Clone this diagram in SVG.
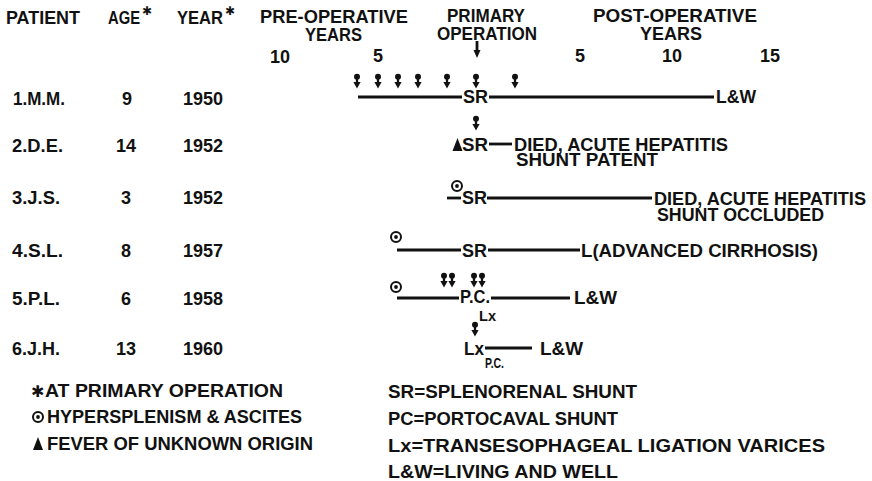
<svg xmlns="http://www.w3.org/2000/svg" width="872" height="481" viewBox="0 0 872 481">
<style>
.t{font-family:"Liberation Sans",Arial,sans-serif;font-weight:bold;font-size:18px;fill:#111}
.s{font-size:14px}
.m{text-anchor:middle}
.st{font-family:"DejaVu Sans","Liberation Sans",sans-serif;font-weight:bold;fill:#111}
.ln{stroke:#111;stroke-width:2.8;fill:none}
</style>
<defs>
<g id="hem"><circle cx="0" cy="2.8" r="3" fill="#111"/><line x1="0" y1="4" x2="0" y2="9" stroke="#111" stroke-width="2.3"/><polygon points="-3.6,8 3.6,8 0,14.5" fill="#111"/></g>
<g id="cd"><circle cx="0" cy="0" r="5" fill="none" stroke="#111" stroke-width="2"/><circle cx="0" cy="0" r="1.9" fill="#111"/></g>
<polygon id="tri" points="-5,0 5,0 0,-13" fill="#111"/>
</defs>
<rect width="872" height="481" fill="#fff"/>

<g id="header">
<text class="t" x="6" y="24" textLength="74" lengthAdjust="spacingAndGlyphs">PATIENT</text>
<text class="t" x="108" y="24" textLength="32" lengthAdjust="spacingAndGlyphs">AGE</text>
<text class="st" x="142" y="15" font-size="12">✱</text>
<text class="t" x="177" y="24" textLength="46" lengthAdjust="spacingAndGlyphs">YEAR</text>
<text class="st" x="225" y="15" font-size="12">✱</text>
<text class="t" x="260" y="23" textLength="148" lengthAdjust="spacingAndGlyphs">PRE-OPERATIVE</text>
<text class="t" x="305" y="41" textLength="57" lengthAdjust="spacingAndGlyphs">YEARS</text>
<text class="t" x="447" y="22" textLength="78" lengthAdjust="spacingAndGlyphs">PRIMARY</text>
<text class="t" x="437" y="40" textLength="100" lengthAdjust="spacingAndGlyphs">OPERATION</text>
<text class="t" x="593" y="22" textLength="164" lengthAdjust="spacingAndGlyphs">POST-OPERATIVE</text>
<text class="t" x="640" y="40" textLength="62" lengthAdjust="spacingAndGlyphs">YEARS</text>
<text class="t m" x="280" y="63">10</text>
<text class="t m" x="378" y="62">5</text>
<text class="t m" x="580" y="62">5</text>
<text class="t m" x="672" y="62">10</text>
<text class="t m" x="770" y="62">15</text>
<line class="ln" x1="477" y1="41" x2="477" y2="51" stroke-width="2"/>
<polygon points="473.5,50 480.5,50 477,58" fill="#111"/>
</g>

<g id="patients">
<text class="t" x="13" y="105" textLength="52" lengthAdjust="spacingAndGlyphs">1.M.M.</text>
<text class="t m" x="127" y="105">9</text>
<text class="t m" x="203" y="105">1950</text>
<text class="t" x="12" y="152" textLength="51" lengthAdjust="spacingAndGlyphs">2.D.E.</text>
<text class="t m" x="126" y="152">14</text>
<text class="t m" x="203" y="152">1952</text>
<text class="t" x="12" y="204" textLength="48" lengthAdjust="spacingAndGlyphs">3.J.S.</text>
<text class="t m" x="126" y="204">3</text>
<text class="t m" x="203" y="204">1952</text>
<text class="t" x="12" y="257" textLength="51" lengthAdjust="spacingAndGlyphs">4.S.L.</text>
<text class="t m" x="126" y="257">8</text>
<text class="t m" x="203" y="257">1957</text>
<text class="t" x="12" y="305" textLength="48" lengthAdjust="spacingAndGlyphs">5.P.L.</text>
<text class="t m" x="126" y="305">6</text>
<text class="t m" x="203" y="305">1958</text>
<text class="t" x="12" y="355" textLength="48" lengthAdjust="spacingAndGlyphs">6.J.H.</text>
<text class="t m" x="126" y="355">13</text>
<text class="t m" x="203" y="355">1960</text>
</g>

<g id="connectors">
<line class="ln" x1="358" y1="97" x2="462" y2="97"/>
<line class="ln" x1="489" y1="97" x2="714" y2="97"/>
<line class="ln" x1="489" y1="144" x2="512" y2="144"/>
<line class="ln" x1="447" y1="198" x2="461" y2="198"/>
<line class="ln" x1="487" y1="198" x2="652" y2="198"/>
<line class="ln" x1="397" y1="250" x2="461" y2="250"/>
<line class="ln" x1="488" y1="250" x2="580" y2="250"/>
<line class="ln" x1="397" y1="298" x2="459" y2="298"/>
<line class="ln" x1="491" y1="298" x2="570" y2="298"/>
<line class="ln" x1="485" y1="348" x2="532" y2="348"/>
</g>

<g id="row1">
<use href="#hem" x="357" y="74"/><use href="#hem" x="378" y="74"/><use href="#hem" x="398" y="74"/><use href="#hem" x="418" y="74"/><use href="#hem" x="447" y="74"/><use href="#hem" x="476" y="74"/><use href="#hem" x="515" y="74"/>
<text class="t" x="463" y="103" textLength="25" lengthAdjust="spacingAndGlyphs">SR</text>
<text class="t" x="716" y="103" textLength="40" lengthAdjust="spacingAndGlyphs">L&amp;W</text>
</g>

<g id="row2">
<use href="#hem" x="476" y="116"/>
<use href="#tri" x="457.5" y="151"/>
<text class="t" x="462" y="151" textLength="26" lengthAdjust="spacingAndGlyphs">SR</text>
<text class="t" x="514" y="151" textLength="214" lengthAdjust="spacingAndGlyphs">DIED, ACUTE HEPATITIS</text>
<text class="t" x="516" y="166" textLength="142" lengthAdjust="spacingAndGlyphs">SHUNT PATENT</text>
</g>

<g id="row3">
<use href="#cd" x="457" y="186"/>
<text class="t" x="462" y="204" textLength="25" lengthAdjust="spacingAndGlyphs">SR</text>
<text class="t" x="654" y="205" textLength="212" lengthAdjust="spacingAndGlyphs">DIED, ACUTE HEPATITIS</text>
<text class="t" x="657" y="221" textLength="167" lengthAdjust="spacingAndGlyphs">SHUNT OCCLUDED</text>
</g>

<g id="row4">
<use href="#cd" x="396" y="237"/>
<text class="t" x="462" y="257" textLength="25" lengthAdjust="spacingAndGlyphs">SR</text>
<text class="t" x="581" y="257" textLength="237" lengthAdjust="spacingAndGlyphs">L(ADVANCED CIRRHOSIS)</text>
</g>

<g id="row5">
<use href="#cd" x="396" y="287"/>
<use href="#hem" x="444" y="273"/><use href="#hem" x="452" y="273"/><use href="#hem" x="474" y="273"/><use href="#hem" x="482" y="273"/>
<text class="t" x="460" y="303" textLength="30" lengthAdjust="spacingAndGlyphs">P.C.</text>
<text class="t" x="574" y="304" textLength="43" lengthAdjust="spacingAndGlyphs">L&amp;W</text>
<text class="t s" x="479" y="321" textLength="17" lengthAdjust="spacingAndGlyphs">Lx</text>
<use href="#hem" x="475" y="322"/>
</g>

<g id="row6">
<text class="t" x="464" y="355" textLength="20" lengthAdjust="spacingAndGlyphs">Lx</text>
<text class="t" x="540" y="355" textLength="43" lengthAdjust="spacingAndGlyphs">L&amp;W</text>
<text class="t s" x="485" y="368" textLength="19" lengthAdjust="spacingAndGlyphs">P.C.</text>
</g>

<g id="legend-left">
<text class="st" x="31" y="397" font-size="16">✱</text>
<text class="t" x="45" y="397" textLength="238" lengthAdjust="spacingAndGlyphs">AT PRIMARY OPERATION</text>
<use href="#cd" x="38" y="417"/>
<text class="t" x="47" y="423" textLength="255" lengthAdjust="spacingAndGlyphs">HYPERSPLENISM &amp; ASCITES</text>
<use href="#tri" x="38" y="450"/>
<text class="t" x="47" y="450" textLength="266" lengthAdjust="spacingAndGlyphs">FEVER OF UNKNOWN ORIGIN</text>
</g>

<g id="legend-right">
<text class="t" x="388" y="398" textLength="249" lengthAdjust="spacingAndGlyphs">SR=SPLENORENAL SHUNT</text>
<text class="t" x="388" y="425" textLength="230" lengthAdjust="spacingAndGlyphs">PC=PORTOCAVAL SHUNT</text>
<text class="t" x="388" y="452" textLength="437" lengthAdjust="spacingAndGlyphs">Lx=TRANSESOPHAGEAL LIGATION VARICES</text>
<text class="t" x="388" y="478" textLength="230" lengthAdjust="spacingAndGlyphs">L&amp;W=LIVING AND WELL</text>
</g>
</svg>
